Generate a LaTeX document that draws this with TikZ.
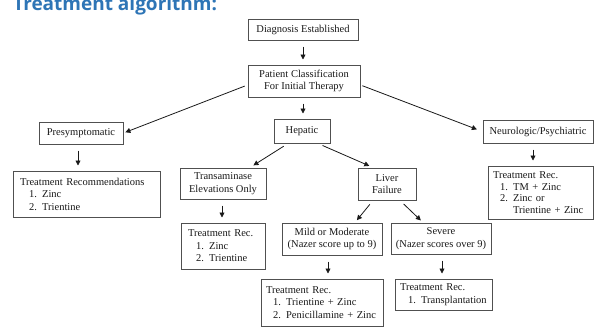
\documentclass[tikz,border=0pt]{standalone}
\usepackage{fontspec}
\setmainfont{Liberation Serif}
\newfontfamily\titlefont{Open Sans}
\usetikzlibrary{arrows.meta}
\definecolor{titleblue}{RGB}{46,117,182}
\definecolor{ink}{RGB}{25,25,25}
\definecolor{edgegray}{RGB}{80,80,80}
\begin{document}
\begin{tikzpicture}[x=1pt,y=-1pt,
  box/.style={draw=edgegray, line width=1pt, rectangle, inner sep=0pt, align=center,
    font=\fontsize{10.5}{12.5}\selectfont, text=ink},
  listbox/.style={box, align=left, inner xsep=#1},
  arr/.style={draw=ink, line width=0.8pt, -{Triangle[length=5pt,width=5pt]}},
  varr/.style={arr, shorten <=6pt, shorten >=5pt}
]
\useasboundingbox (0,0) rectangle (600,332);
\fill[white] (0,0) rectangle (600,332);
\node[anchor=base west, inner sep=0pt, font=\titlefont\bfseries\fontsize{19}{22}\selectfont, text=titleblue] (title) at (13,10) {Treatment algorithm:};

\node[box, minimum width=110pt, minimum height=21pt] (diag) at (303,29.5) {Diagnosis Established};
\node[box, minimum width=112pt, minimum height=32pt] (pat) at (304,81) {Patient Classification\\For Initial Therapy};
\node[box, minimum width=56pt, minimum height=24pt] (hep) at (302,131) {Hepatic};
\node[box, minimum width=84pt, minimum height=22pt] (pre) at (81,133) {Presymptomatic};
\node[box, minimum width=110pt, minimum height=23pt] (neuro) at (538,131.5) {Neurologic/Psychiatric};
\node[listbox=7pt, text width=133pt, minimum height=46pt] (tr1) at (86.5,194)
  {Treatment Recommendations\\\hspace*{9pt}1. Zinc\\\hspace*{9pt}2. Trientine};
\node[box, minimum width=86pt, minimum height=31pt] (trans) at (223,183.5) {Transaminase\\Elevations Only};
\node[box, minimum width=58pt, minimum height=32pt] (liver) at (387,184) {Liver\\Failure};
\node[listbox=5pt, text width=95pt, minimum height=53pt, font=\fontsize{10.5}{11.7}\selectfont] (tr4) at (540.5,192.5)
  {Treatment Rec.\\\hspace*{7pt}1. TM + Zinc\\\hspace*{7pt}2. Zinc or\\\hspace*{20pt}Trientine + Zinc};
\node[listbox=7pt, text width=70pt, minimum height=46pt] (tr2) at (223,246)
  {Treatment Rec.\\\hspace*{8pt}1. Zinc\\\hspace*{8pt}2. Trientine};
\node[box, minimum width=100pt, minimum height=32pt] (mild) at (332,239) {Mild or Moderate\\(Nazer score up to 9)};
\node[box, minimum width=100pt, minimum height=31pt] (severe) at (441,238.5) {Severe\\(Nazer scores over 9)};
\node[listbox=5pt, text width=112pt, minimum height=47pt] (tr3) at (322,302.5)
  {Treatment Rec.\\\hspace*{7pt}1. Trientine + Zinc\\\hspace*{7pt}2. Penicillamine + Zinc};
\node[listbox=5pt, text width=87pt, minimum height=31pt] (tr5) at (443.5,294.5)
  {Treatment Rec.\\\hspace*{8pt}1. Transplantation};

% vertical arrows
\draw[varr] (diag.south) -- (diag.south |- pat.north);
\draw[varr] ([xshift=-1pt]pat.south) -- ([xshift=-1pt]pat.south |- hep.north);
\draw[varr] ([xshift=-3pt]pre.south) -- ([xshift=-3pt]pre.south |- tr1.north);
\draw[varr] ([xshift=-5pt]neuro.south) -- ([xshift=-5pt]neuro.south |- tr4.north);
\draw[varr] ([xshift=-1pt]trans.south) -- ([xshift=-1pt]trans.south |- tr2.north);
\draw[varr] ([xshift=-4pt]mild.south) -- ([xshift=-4pt]mild.south |- tr3.north);
\draw[varr] ([xshift=1pt]severe.south) -- ([xshift=1pt]severe.south |- tr5.north);

% diagonal arrows
\draw[arr, shorten <=3pt, shorten >=2pt] ([yshift=-4pt]pat.west) -- (pre.east);
\draw[arr, shorten <=2pt, shorten >=6pt] ([yshift=-4pt]pat.east) -- (neuro.west);
\draw[arr, shorten <=5pt, shorten >=4pt] ([xshift=-14pt]hep.south) -- ([xshift=27pt]trans.north);
\draw[arr, shorten <=5pt, shorten >=4pt] ([xshift=16pt]hep.south) -- ([xshift=-14pt]liver.north);
\draw[arr, shorten <=5pt, shorten >=3pt] ([xshift=-14pt]liver.south) -- ([xshift=23pt]mild.north);
\draw[arr, shorten <=5pt, shorten >=3pt] ([xshift=13pt]liver.south) -- ([xshift=-18pt]severe.north);
\end{tikzpicture}
\end{document}
